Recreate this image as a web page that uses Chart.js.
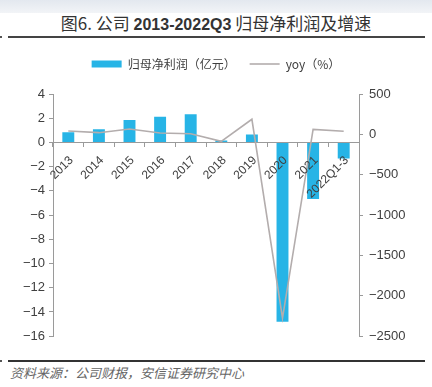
<!DOCTYPE html>
<html>
<head>
<meta charset="utf-8">
<script src="https://cdn.jsdelivr.net/npm/chart.js@4.4.1/dist/chart.umd.min.js"></script>
<style>
  html, body { margin: 0; padding: 0; background: #fff; }
  body { width: 432px; height: 387px; position: relative; overflow: hidden;
         font-family: "Liberation Sans", "Noto Sans CJK SC", sans-serif; }
  .band { position: absolute; left: 0; top: 0; width: 432px; height: 13px;
          background: linear-gradient(to bottom, #e3e8ef, #f2f4f7); }
  .title { position: absolute; left: 0; top: 10px; width: 432px; text-align: center;
           font-size: 17px; color: #333; font-family: "Noto Sans CJK SC", sans-serif; }
  .title b { font-family: "Liberation Sans", sans-serif; font-weight: bold; font-size: 16px; }
  .rule { position: absolute; left: 8px; width: 417px; height: 2px; background: #444; }
  .dot { position: absolute; left: 0; width: 2px; height: 2px; background: #555; }
  .source { position: absolute; left: 10px; top: 363px; font-size: 13px; color: #666;
            font-style: italic; font-family: "Noto Sans CJK SC", sans-serif; }
  #wrap { position: absolute; left: 0; top: 40px; width: 432px; height: 310px; }
</style>
</head>
<body>
<div class="band"></div>
<div class="title">图6. 公司 <b>2013-2022Q3</b> 归母净利润及增速</div>
<div class="rule" style="top:36px"></div>
<div class="dot" style="top:36px"></div>
<div id="wrap"><canvas id="chart"></canvas></div>
<div class="rule" style="top:360px;height:1.5px;background:#333"></div>
<div class="dot" style="top:360px"></div>
<div class="source">资料来源：公司财报，安信证券研究中心</div>

<script>
  // data
  const categories = ['2013', '2014', '2015', '2016', '2017', '2018', '2019', '2020', '2021', '2022Q1-3'];
  const netProfit = [0.85, 1.08, 1.85, 2.13, 2.32, 0.17, 0.66, -14.8, -4.67, -1.33]; // 亿元
  const yoy = [41, 21, 66, 17, 8, -87, 187, -2275, 62, 38]; // %
  const leftTicks = { min: -16, max: 4, step: 2 };
  const rightTicks = { min: -2500, max: 500, step: 500 };

  const BAR_BLUE = '#27b4e6';
  const LINE_GREY = '#b3adad';
  const AXIS = '#9a9a9a';
  const TEXT = '#404040';

  const minus = v => String(v).replace('-', '\u2212');

  // push the plot down a bit under the legend
  const legendGap = {
    id: 'legendGap',
    beforeInit(chart) {
      const fit = chart.legend.fit;
      chart.legend.fit = function () {
        fit.call(this);
        this.height += 14;
      };
    }
  };

  // category labels hang under the zero line, slanted, on top of the bars
  const slantLabels = {
    id: 'slantLabels',
    afterDatasetsDraw(chart) {
      const { ctx, scales: { x, y } } = chart;
      const y0 = y.getPixelForValue(0);
      ctx.save();
      ctx.font = '12px "Liberation Sans", sans-serif';
      ctx.fillStyle = TEXT;
      ctx.textAlign = 'right';
      ctx.textBaseline = 'middle';
      chart.data.labels.forEach((lab, i) => {
        ctx.save();
        ctx.translate(x.getPixelForTick(i) + 3, y0 + 16);
        ctx.rotate(-Math.PI / 4);
        ctx.fillText(lab, 0, 0);
        ctx.restore();
      });
      ctx.restore();
    }
  };

  new Chart(document.getElementById('chart'), {
    data: {
      labels: categories,
      datasets: [
        {
          type: 'line',
          label: 'yoy（%）',
          data: yoy,
          yAxisID: 'y1',
          borderColor: LINE_GREY,
          backgroundColor: LINE_GREY,
          borderWidth: 1.6,
          pointRadius: 0,
          tension: 0,
          order: 0
        },
        {
          type: 'bar',
          label: '归母净利润（亿元）',
          data: netProfit,
          yAxisID: 'y',
          backgroundColor: BAR_BLUE,
          categoryPercentage: 1,
          barPercentage: 0.39,
          order: 1
        }
      ]
    },
    options: {
      responsive: true,
      maintainAspectRatio: false,
      animation: false,
      layout: { padding: { top: 4, bottom: 12, left: 0, right: 0 } },
      plugins: {
        tooltip: { enabled: false },
        legend: {
          position: 'top',
          reverse: true,
          labels: {
            usePointStyle: true,
            pointStyleWidth: 30,
            boxHeight: 7,
            padding: 14,
            color: TEXT,
            font: { size: 12, family: '"Noto Sans CJK SC", "Liberation Sans", sans-serif' },
            generateLabels(chart) {
              const items = Chart.defaults.plugins.legend.labels.generateLabels(chart);
              items.forEach(it => {
                const ds = chart.data.datasets[it.datasetIndex];
                if (ds.type === 'line') {
                  it.pointStyle = 'line';
                  it.strokeStyle = LINE_GREY;
                  it.lineWidth = 1.6;
                } else {
                  it.pointStyle = 'rect';
                  it.lineWidth = 0;
                  it.strokeStyle = BAR_BLUE;
                }
              });
              return items;
            }
          }
        }
      },
      scales: {
        x: {
          position: { y: 0 },
          offset: true,
          grid: { drawOnChartArea: false, drawTicks: true, tickLength: 4, color: AXIS, offset: true },
          border: { color: AXIS },
          ticks: { display: false }
        },
        y: {
          position: 'left',
          min: leftTicks.min, max: leftTicks.max,
          grid: { drawOnChartArea: false, tickLength: 4, color: AXIS },
          border: { color: AXIS },
          ticks: { stepSize: leftTicks.step, color: TEXT, padding: 4, callback: minus,
                   font: { size: 13, family: '"Liberation Sans", sans-serif' } },
          afterFit(scale) { scale.width = 53; }
        },
        y1: {
          position: 'right',
          min: rightTicks.min, max: rightTicks.max,
          grid: { drawOnChartArea: false, tickLength: 4, color: AXIS },
          border: { color: AXIS },
          ticks: { stepSize: rightTicks.step, color: TEXT, padding: 6, callback: minus,
                   font: { size: 13, family: '"Liberation Sans", sans-serif' } },
          afterFit(scale) { scale.width = 73; }
        }
      }
    },
    plugins: [legendGap, slantLabels]
  });
</script>
</body>
</html>
